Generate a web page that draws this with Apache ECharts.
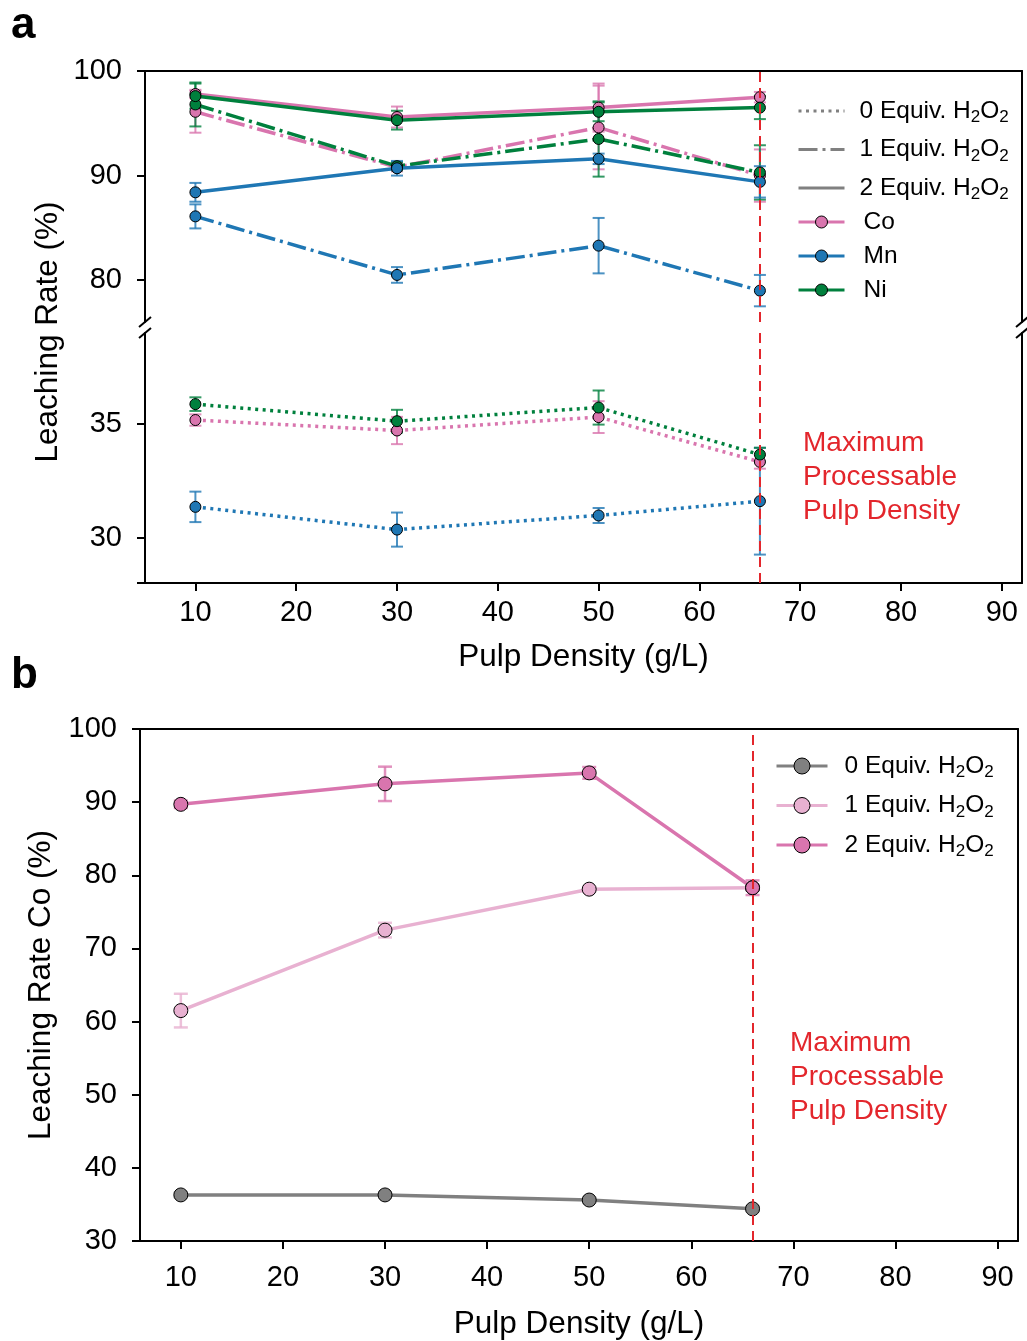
<!DOCTYPE html>
<html>
<head>
<meta charset="utf-8">
<script src="https://cdn.jsdelivr.net/npm/echarts@6/dist/echarts.min.js"></script>
<style>
  html, body { margin: 0; padding: 0; background: #ffffff; }
  #chart { width: 1027px; height: 1341px; }
</style>
</head>
<body>
<div id="chart"></div>
<script>
// x positions and ticks
const pulpDensity = [10, 30, 50, 66];
const maxDensity = 66;
const xTicks = [10, 20, 30, 40, 50, 60, 70, 80, 90];
const upperTicks = [80, 90, 100];
const lowerTicks = [30, 35];
const lowerTickMarks = [28, 30, 35];
const bTicks = [30, 40, 50, 60, 70, 80, 90, 100];

// panel a: 0 equiv. H2O2
const coZero = [35.17, 34.71, 35.3, 33.33];
const coZeroErr = [0.25, 0.6, 0.7, 0.3];
const mnZero = [31.35, 30.35, 30.97, 31.6];
const mnZeroErr = [0.67, 0.75, 0.33, 2.35];
const niZero = [35.87, 35.12, 35.72, 33.65];
const niZeroErr = [0.3, 0.5, 0.75, 0.3];

// panel a: 1 equiv. H2O2
const coOne = [96.1, 90.8, 94.6, 90.0];
const coOneErr = [2.0, 0.4, 4.0, 2.5];
const mnOne = [86.1, 80.5, 83.3, 79.0];
const mnOneErr = [1.15, 0.75, 2.65, 1.5];
const niOne = [96.8, 90.9, 93.5, 90.3];
const niOneErr = [2.1, 0.4, 3.6, 2.6];

// panel a: 2 equiv. H2O2
const coTwo = [97.8, 95.6, 96.5, 97.5];
const coTwoErr = [0.4, 1.0, 2.3, 0.5];
const mnTwo = [88.4, 90.7, 91.6, 89.4];
const mnTwoErr = [0.9, 0.7, 0.5, 1.5];
const niTwo = [97.6, 95.3, 96.1, 96.5];
const niTwoErr = [1.2, 0.9, 0.9, 1.1];

// panel b: Co only
const coB0 = [36.3, 36.3, 35.6, 34.4];
const coB0Err = [0.3, 0.3, 0.3, 0.3];
const coB1 = [61.5, 72.5, 78.1, 78.3];
const coB1Err = [2.3, 1.0, 0.3, 0.4];
const coB2 = [89.7, 92.5, 94.0, 78.3];
const coB2Err = [0.5, 2.35, 0.8, 1.0];

const coColor = '#d975ae';
const mnColor = '#1f77b4';
const niColor = '#00803d';
const grayColor = '#808080';
const lightPink = '#e8b1d1';
const red = '#e3262c';

const dotted = [3, 4.5];
const dashDot = [19, 5, 3, 5];

const legendNames = {
  'a-0': '0 Equiv. H{s|2}O{s|2}',
  'a-1': '1 Equiv. H{s|2}O{s|2}',
  'a-2': '2 Equiv. H{s|2}O{s|2}',
  'b-0': '0 Equiv. H{s|2}O{s|2}',
  'b-1': '1 Equiv. H{s|2}O{s|2}',
  'b-2': '2 Equiv. H{s|2}O{s|2}',
};

const UPPER = { x: 0, y: 0 };
const LOWER = { x: 1, y: 2 };
const PANEL_B = { x: 2, y: 4 };

const pairs = (ys) => pulpDensity.map((x, i) => [x, ys[i]]);
const bars = (ys, errs) => pulpDensity.map((x, i) => [x, ys[i] - errs[i], ys[i] + errs[i]]);

const lineSeries = (ys, color, dash, axis, size, width, name) => ({
  name,
  type: 'line',
  xAxisIndex: axis.x,
  yAxisIndex: axis.y,
  data: pairs(ys),
  symbol: 'circle',
  symbolSize: size,
  z: 4,
  silent: true,
  lineStyle: { color, width, type: dash },
  itemStyle: { color, borderColor: '#000', borderWidth: 1 },
});

// vertical error bar with caps
const errorSeries = (ys, errs, color, axis, cap, width) => ({
  type: 'custom',
  xAxisIndex: axis.x,
  yAxisIndex: axis.y,
  data: bars(ys, errs),
  encode: { x: 0, y: [1, 2] },
  z: 3,
  silent: true,
  itemStyle: { color },
  renderItem(params, api) {
    const top = api.coord([api.value(0), api.value(2)]);
    const bottom = api.coord([api.value(0), api.value(1)]);
    const style = { stroke: api.visual('color'), lineWidth: width, opacity: 0.8 };
    return {
      type: 'group',
      children: [
        { type: 'line', shape: { x1: top[0], y1: top[1], x2: bottom[0], y2: bottom[1] }, style },
        { type: 'line', shape: { x1: top[0] - cap, y1: top[1], x2: top[0] + cap, y2: top[1] }, style },
        { type: 'line', shape: { x1: bottom[0] - cap, y1: bottom[1], x2: bottom[0] + cap, y2: bottom[1] }, style },
      ],
    };
  },
});

// the "/" marks of the broken axis
const breakMarks = (axis, y) => ({
  type: 'custom',
  xAxisIndex: axis.x,
  yAxisIndex: axis.y,
  data: [[5, y], [92, y]],
  z: 6,
  silent: true,
  renderItem(params, api) {
    const p = api.coord([api.value(0), api.value(1)]);
    return {
      type: 'line',
      shape: { x1: p[0] - 6, y1: p[1] + 5, x2: p[0] + 6, y2: p[1] - 5 },
      style: { stroke: '#000', lineWidth: 2 },
    };
  },
});

const limitLine = (axis) => ({
  type: 'line',
  xAxisIndex: axis.x,
  yAxisIndex: axis.y,
  data: [],
  z: 2,
  markLine: {
    silent: true,
    symbol: 'none',
    label: { show: false },
    lineStyle: { color: red, type: [10, 6], width: 2 },
    data: [{ xAxis: maxDensity }],
  },
});

const legendOnly = (name, color, dash, withSymbol) => ({
  name,
  type: 'line',
  xAxisIndex: 0,
  yAxisIndex: 0,
  data: [],
  symbol: 'circle',
  lineStyle: { color, width: 3, type: dash },
  itemStyle: withSymbol
    ? { color, borderColor: '#000', borderWidth: 1 }
    : { color: 'rgba(0,0,0,0)', borderColor: 'rgba(0,0,0,0)' },
});

const axisLine = { show: true, onZero: false, lineStyle: { color: '#000', width: 2 } };
const axisTick = { show: true, length: 8, lineStyle: { color: '#000', width: 2 } };
const axisLabel = { color: '#000', fontSize: 29 };
const axisName = { color: '#000', fontSize: 31.5 };
const noSplit = { show: false };

const spineOnly = (extra) => ({
  type: 'value',
  axisLine,
  axisTick: { show: false },
  axisLabel: { show: false },
  splitLine: noSplit,
  ...extra,
});

const legendText = (padLeft) => ({
  color: '#000',
  fontSize: 24.5,
  lineHeight: 30,
  padding: [0, 0, 0, padLeft],
  rich: { s: { fontSize: 17, lineHeight: 16, verticalAlign: 'bottom' } },
});

const legendBase = {
  orient: 'vertical',
  padding: 0,
  selectedMode: false,
  formatter: (name) => legendNames[name] || name,
  lineStyle: { width: 3 },
  itemStyle: { borderWidth: 1 },
};

const chart = echarts.init(document.getElementById('chart'));

chart.setOption({
  animation: false,
  textStyle: { fontFamily: 'Liberation Sans, Arial, sans-serif' },
  grid: [
    { left: 145, top: 71, width: 877, height: 251 },
    { left: 145, top: 333, width: 877, height: 250 },
    { left: 140, top: 729, width: 878, height: 513 },
  ],
  xAxis: [
    spineOnly({ gridIndex: 0, position: 'top', min: 5, max: 92 }),
    {
      gridIndex: 1,
      type: 'value',
      position: 'bottom',
      min: 5,
      max: 92,
      axisLine,
      axisTick: { ...axisTick, customValues: xTicks },
      axisLabel: { ...axisLabel, margin: 15, customValues: xTicks },
      splitLine: noSplit,
      name: 'Pulp Density (g/L)',
      nameLocation: 'middle',
      nameGap: 58,
      nameTextStyle: axisName,
    },
    {
      gridIndex: 2,
      type: 'value',
      position: 'bottom',
      min: 6,
      max: 92,
      axisLine,
      axisTick: { ...axisTick, customValues: xTicks },
      axisLabel: { ...axisLabel, margin: 22, customValues: xTicks },
      splitLine: noSplit,
      name: 'Pulp Density (g/L)',
      nameLocation: 'middle',
      nameGap: 67,
      nameTextStyle: axisName,
    },
    spineOnly({ gridIndex: 2, position: 'top', min: 6, max: 92 }),
  ],
  yAxis: [
    {
      gridIndex: 0,
      type: 'value',
      position: 'left',
      min: 76,
      max: 100,
      axisLine,
      axisTick: { ...axisTick, customValues: upperTicks },
      axisLabel: { ...axisLabel, margin: 23, customValues: upperTicks },
      splitLine: noSplit,
    },
    spineOnly({ gridIndex: 0, position: 'right', min: 76, max: 100 }),
    {
      gridIndex: 1,
      type: 'value',
      position: 'left',
      min: 28,
      max: 39,
      axisLine,
      axisTick: { ...axisTick, customValues: lowerTickMarks },
      axisLabel: { ...axisLabel, margin: 23, customValues: lowerTicks },
      splitLine: noSplit,
    },
    spineOnly({ gridIndex: 1, position: 'right', min: 28, max: 39 }),
    {
      gridIndex: 2,
      type: 'value',
      position: 'left',
      min: 30,
      max: 100,
      axisLine,
      axisTick: { ...axisTick, customValues: bTicks },
      axisLabel: { ...axisLabel, margin: 23, customValues: bTicks },
      splitLine: noSplit,
      name: 'Leaching Rate Co (%)',
      nameLocation: 'middle',
      nameGap: 79,
      nameTextStyle: axisName,
    },
    spineOnly({ gridIndex: 2, position: 'right', min: 30, max: 100 }),
  ],
  legend: [
    {
      ...legendBase,
      data: ['a-0', 'a-1', 'a-2'],
      left: 797,
      top: 96,
      itemWidth: 46,
      itemHeight: 15,
      itemGap: 8.5,
      textStyle: legendText(10),
    },
    {
      ...legendBase,
      data: ['Co', 'Mn', 'Ni'],
      left: 797,
      top: 207,
      itemWidth: 46,
      itemHeight: 15,
      itemGap: 4,
      textStyle: legendText(14),
    },
    {
      ...legendBase,
      data: ['b-0', 'b-1', 'b-2'],
      left: 775,
      top: 751,
      itemWidth: 51,
      itemHeight: 20,
      itemGap: 9.5,
      textStyle: legendText(12),
    },
  ],
  graphic: [
    { type: 'text', x: 11, y: 26, style: { text: 'a', font: 'bold 44px Liberation Sans', fill: '#000', verticalAlign: 'middle' } },
    { type: 'text', x: 11, y: 676, style: { text: 'b', font: 'bold 44px Liberation Sans', fill: '#000', verticalAlign: 'middle' } },
    {
      type: 'text', x: 48, y: 332, rotation: Math.PI / 2,
      style: { text: 'Leaching Rate (%)', font: '31.5px Liberation Sans', fill: '#000', align: 'center', verticalAlign: 'middle' },
    },
    {
      type: 'text', x: 803, y: 477,
      style: { text: 'Maximum\nProcessable\nPulp Density', font: '28px Liberation Sans', fill: red, lineHeight: 34, verticalAlign: 'middle' },
    },
    {
      type: 'text', x: 790, y: 1077,
      style: { text: 'Maximum\nProcessable\nPulp Density', font: '28px Liberation Sans', fill: red, lineHeight: 34, verticalAlign: 'middle' },
    },
  ],
  series: [
    limitLine(UPPER),
    limitLine(LOWER),
    limitLine(PANEL_B),
    breakMarks(UPPER, 76),
    breakMarks(LOWER, 39),

    // legend entries of panel a
    legendOnly('a-0', grayColor, dotted, false),
    legendOnly('a-1', grayColor, dashDot, false),
    legendOnly('a-2', grayColor, 'solid', false),
    legendOnly('Co', coColor, 'solid', true),
    legendOnly('Mn', mnColor, 'solid', true),
    legendOnly('Ni', niColor, 'solid', true),

    // panel a, lower segment
    errorSeries(coZero, coZeroErr, coColor, LOWER, 6, 2),
    lineSeries(coZero, coColor, dotted, LOWER, 11, 3.5),
    errorSeries(mnZero, mnZeroErr, mnColor, LOWER, 6, 2),
    lineSeries(mnZero, mnColor, dotted, LOWER, 11, 3.5),
    errorSeries(niZero, niZeroErr, niColor, LOWER, 6, 2),
    lineSeries(niZero, niColor, dotted, LOWER, 11, 3.5),

    // panel a, upper segment
    errorSeries(coOne, coOneErr, coColor, UPPER, 6, 2),
    lineSeries(coOne, coColor, dashDot, UPPER, 11, 3.5),
    errorSeries(mnOne, mnOneErr, mnColor, UPPER, 6, 2),
    lineSeries(mnOne, mnColor, dashDot, UPPER, 11, 3.5),
    errorSeries(niOne, niOneErr, niColor, UPPER, 6, 2),
    lineSeries(niOne, niColor, dashDot, UPPER, 11, 3.5),
    errorSeries(coTwo, coTwoErr, coColor, UPPER, 6, 2),
    lineSeries(coTwo, coColor, 'solid', UPPER, 11, 3.5),
    errorSeries(mnTwo, mnTwoErr, mnColor, UPPER, 6, 2),
    lineSeries(mnTwo, mnColor, 'solid', UPPER, 11, 3.5),
    errorSeries(niTwo, niTwoErr, niColor, UPPER, 6, 2),
    lineSeries(niTwo, niColor, 'solid', UPPER, 11, 3.5),

    // panel b
    errorSeries(coB0, coB0Err, grayColor, PANEL_B, 7, 2.5),
    lineSeries(coB0, grayColor, 'solid', PANEL_B, 14, 3.5, 'b-0'),
    errorSeries(coB1, coB1Err, lightPink, PANEL_B, 7, 2.5),
    lineSeries(coB1, lightPink, 'solid', PANEL_B, 14, 3.5, 'b-1'),
    errorSeries(coB2, coB2Err, coColor, PANEL_B, 7, 2.5),
    lineSeries(coB2, coColor, 'solid', PANEL_B, 14, 3.5, 'b-2'),
  ],
});
</script>
</body>
</html>
